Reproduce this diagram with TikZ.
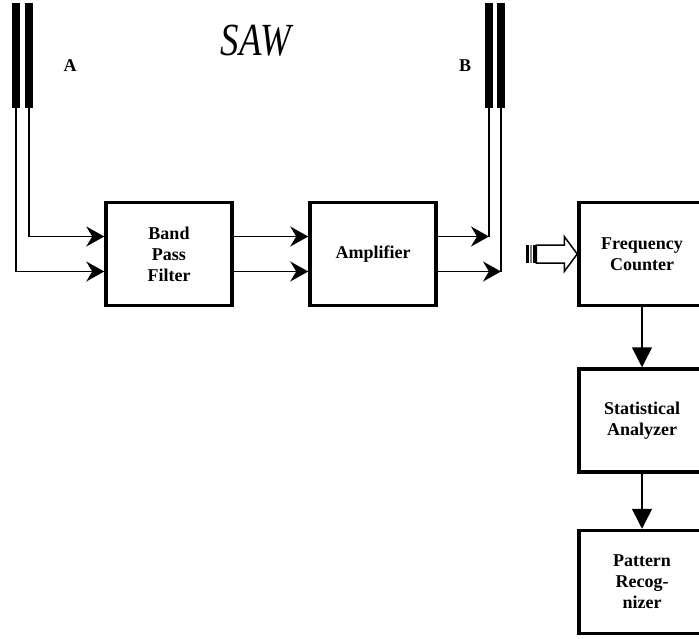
\documentclass[tikz,border=0pt]{standalone}
\usepackage{fontspec}
\setmainfont{Liberation Serif}
\usetikzlibrary{arrows.meta}

\begin{document}
\begin{tikzpicture}[
  x=1pt, y=-1pt,
  font=\bfseries\fontsize{18}{21}\selectfont,
  block/.style={rectangle, draw=black, line width=3.5pt, minimum width=126pt,
                minimum height=103pt, align=center, inner sep=0pt},
  finger/.style={rectangle, fill=black, minimum width=8pt, minimum height=105pt,
                 inner sep=0pt},
  sig/.style={-{Stealth[length=18pt, width=20pt, inset=6pt]}, line width=1.5pt},
  flow/.style={-{Triangle[length=20pt, width=20pt]}, line width=1.5pt},
  wire/.style={line width=1.5pt}
]
  \useasboundingbox (0,0) rectangle (699,638);
  \clip (0,0) rectangle (699,638);

  % electrodes
  \node[finger] (a1) at (16,55.5) {};
  \node[finger] (a2) at (29,55.5) {};
  \node[finger] (b1) at (489,55.5) {};
  \node[finger] (b2) at (501,55.5) {};
  \node (la) at (70,66) {A};
  \node (lb) at (465,66) {B};
  \node[font=\mdseries\itshape\fontsize{46}{46}\selectfont] (saw) at (256,41) {\scalebox{0.8}[1]{SAW}};

  % blocks
  \node[block] (bpf) at (169,254) {Band\\Pass\\Filter};
  \node[block] (amp) at (373,254) {Amplifier};
  \node[block] (fc)  at (642,254) {Frequency\\Counter};
  \node[block] (sa)  at (642,420.5) {Statistical\\Analyzer};
  \node[block] (pr)  at (642,582) {Pattern\\Recog-\\nizer};

  % hollow arrow into the counter
  \draw[line width=1.5pt, fill=white] (fc.west) -- ++(-13,-17.5) -- ++(0,8.5) -- ++(-28,0)
    -- ++(0,18) -- ++(28,0) -- ++(0,8.5) -- cycle;
  \fill ([shift={(-51,-9)}]fc.west) rectangle ++(3,18);
  \fill[gray] ([shift={(-47.5,-9)}]fc.west) rectangle ++(2.5,18);
  \fill ([shift={(-44.5,-9)}]fc.west) rectangle ++(3.5,18);

  % connectors
  \draw[sig] (a2.south) |- ([yshift=17.5pt]bpf.west);
  \draw[sig] (a1.south) |- ([yshift=-17.5pt]bpf.west);
  \draw[sig] ([yshift=17.5pt]bpf.east) -- ([yshift=17.5pt]amp.west);
  \draw[sig] ([yshift=-17.5pt]bpf.east) -- ([yshift=-17.5pt]amp.west);
  \path ([yshift=17.5pt]amp.east) coordinate (ampup) ([yshift=-17.5pt]amp.east) coordinate (ampdn);
  \draw[wire] (b1.south) -- (ampup -| b1.south);
  \draw[wire] (b2.south) -- (ampdn -| b2.south);
  \draw[sig] (ampup) -- (ampup -| b1.south);
  \draw[sig] (ampdn) -- (ampdn -| b2.south);
  \draw[flow] (fc.south) -- (sa.north);
  \draw[flow] (sa.south) -- (pr.north);
\end{tikzpicture}
\end{document}
